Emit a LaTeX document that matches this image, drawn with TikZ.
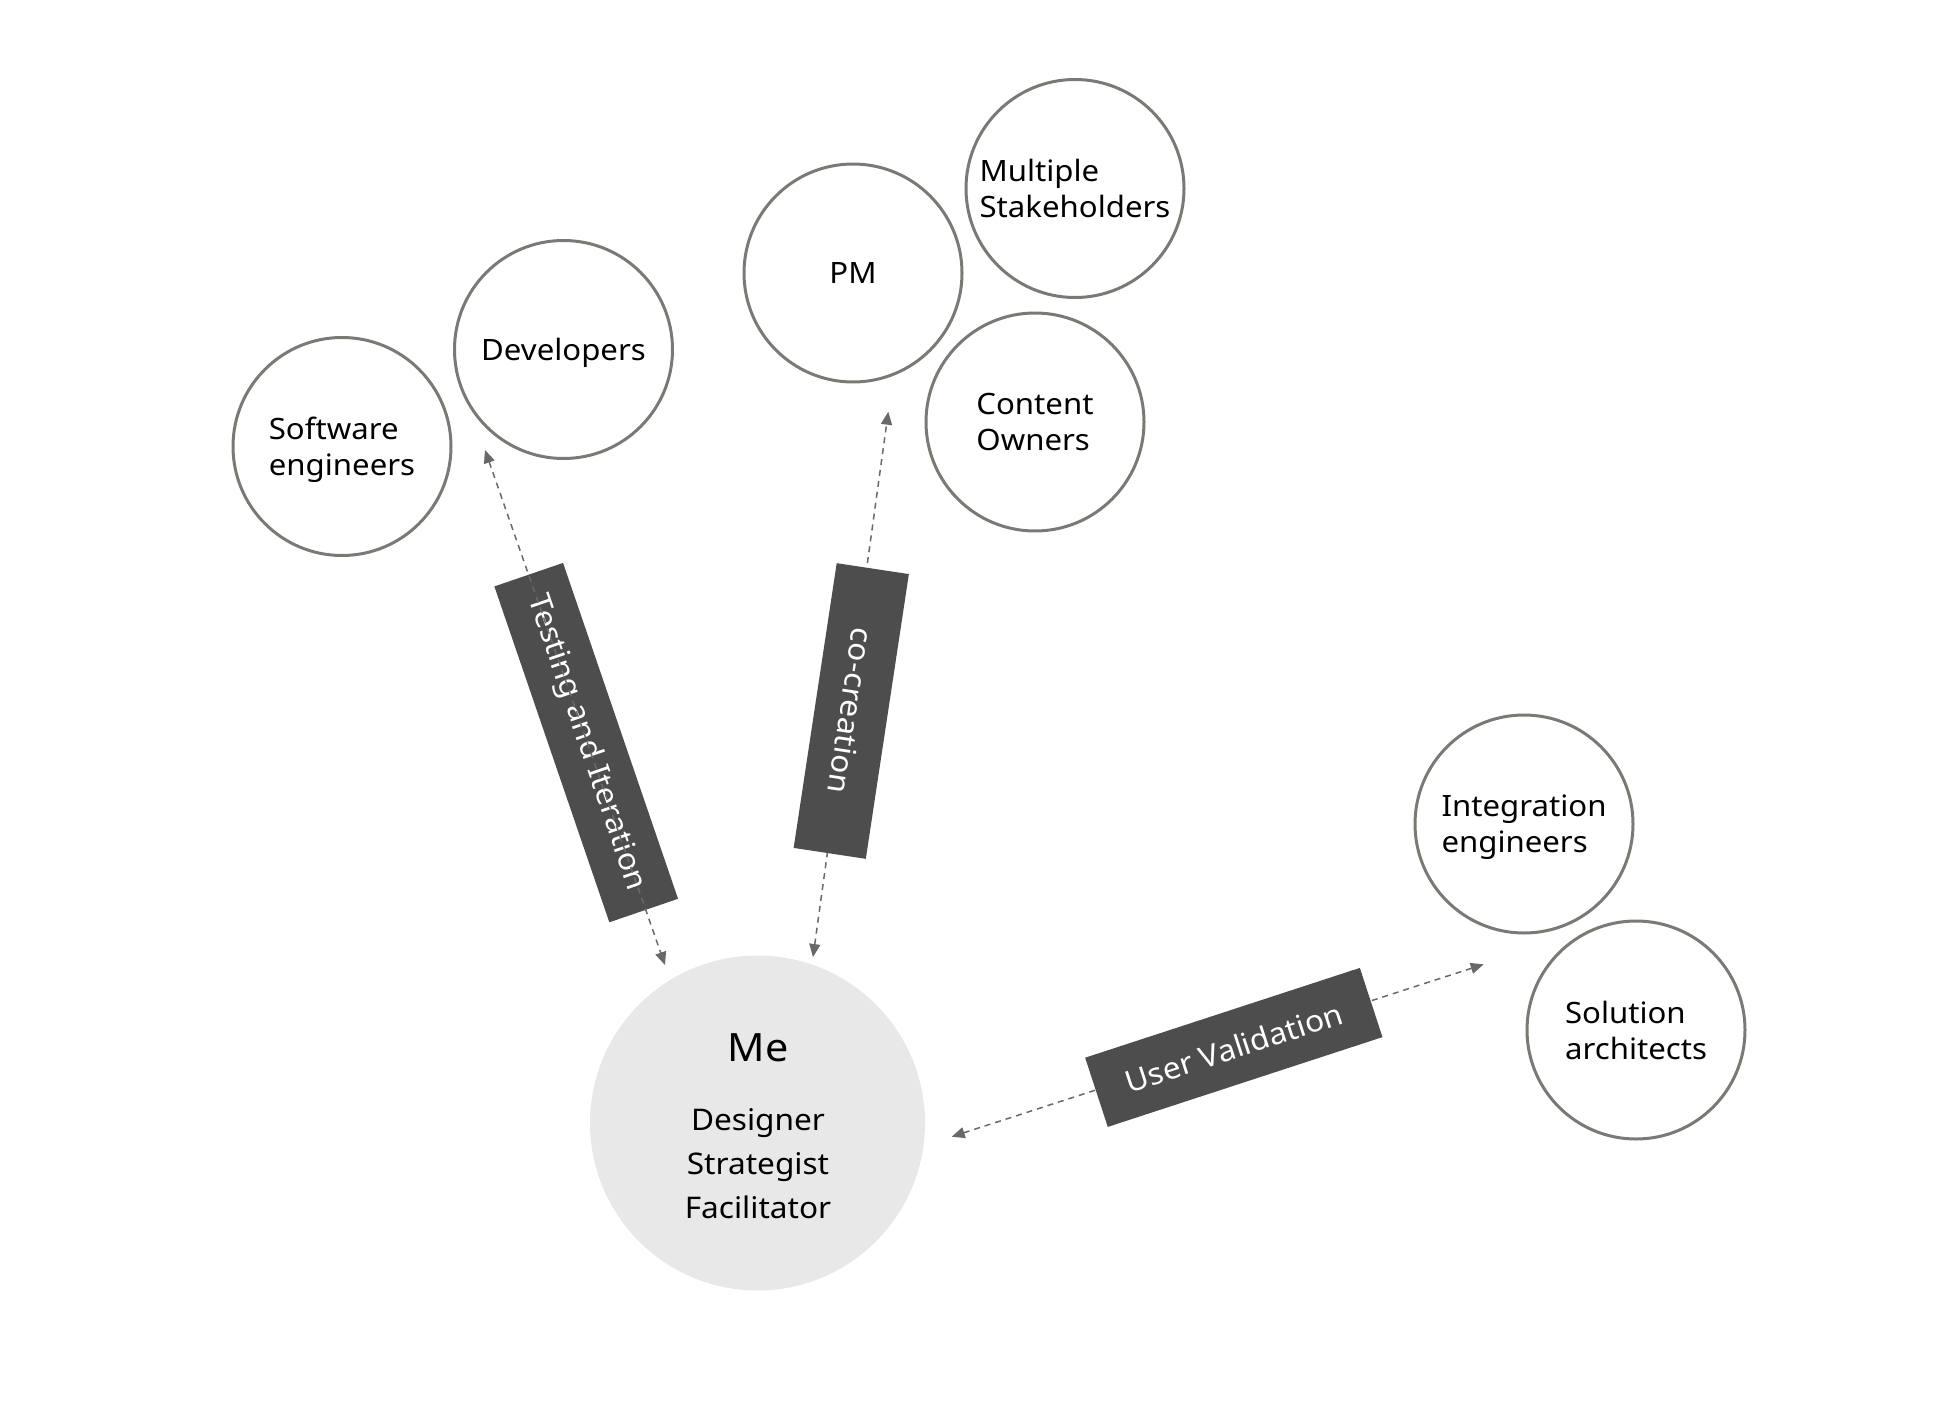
\documentclass[tikz,border=0pt]{standalone}
\usepackage{fontspec}
\setmainfont{Noto Sans}[FakeStretch=1.06]
\usetikzlibrary{arrows.meta}
\definecolor{ringcol}{RGB}{122,122,116}
\definecolor{boxcol}{RGB}{77,77,77}
\definecolor{mecol}{RGB}{232,232,232}
\definecolor{conncol}{RGB}{105,105,105}
\tikzset{
  stake/.style={circle, draw=ringcol, line width=3pt, minimum size=218pt, inner sep=0pt,
    align=left, font=\fontsize{29.4}{36}\selectfont, fill=white, text depth=0pt},
  lbl/.style={fill=boxcol, text=white, inner sep=0pt, font=\fontsize{30}{36}\selectfont},
  conn/.style={draw=conncol, line width=1.5pt, dash pattern=on 6pt off 5pt,
    arrows={Triangle[length=13pt,width=11pt]-Triangle[length=13pt,width=11pt]}},
  roletxt/.style={anchor=base, inner sep=0pt, font=\fontsize{29.8}{44}\selectfont}
}
\begin{document}
\begin{tikzpicture}[x=1pt,y=-1pt]
\useasboundingbox (0,0) rectangle (1946,1410);

% stakeholder circles
\node[stake] (soft) at (342,446.5) {Software\\engineers};
\node[stake] (dev) at (563.5,349.5) {Developers};
\node[stake] (pm) at (853,273) {PM};
\node[stake] (multi) at (1075,188.5) {Multiple\\Stakeholders};
\node[stake] (content) at (1035,422) {Content\\Owners};
\node[stake] (integ) at (1524,824) {Integration\\engineers};
\node[stake] (sol) at (1636,1030) {Solution\\architects};

% me
\node[circle, fill=mecol, minimum size=335pt, inner sep=0pt] (me) at (757.5,1123) {};
\node[anchor=base, inner sep=0pt, font=\fontsize{39}{44}\selectfont] (metitle) at (758,1061.7) {Me};
\node[roletxt] (designer) at (758,1130) {Designer};
\node[roletxt] (strategist) at (758,1174) {Strategist};
\node[roletxt] (facilitator) at (758,1218) {Facilitator};

% connector end points
\coordinate (tTop) at (485,450);
\coordinate (tBot) at (665,965);
\coordinate (cTop) at (888.3,411.7);
\coordinate (cBot) at (813,957);
\coordinate (uLeft) at (951.7,1136.7);
\coordinate (uRight) at (1483.7,964.3);

% connectors behind labels
\draw[conn] (cBot) -- (cTop);
\draw[conn] (uLeft) -- (uRight);

% labels
\node[lbl, rotate=-71.1, minimum width=355pt, minimum height=72.6pt] (testlbl) at (586.2,742.6) {Testing and Iteration};
\node[lbl, rotate=-98.6, minimum width=288pt, minimum height=73pt] (colbl) at (851.25,711) {co-creation};
\node[lbl, rotate=18.1, minimum width=289pt, minimum height=72.8pt] (uvlbl) at (1233.8,1047.4) {User Validation};

% connector drawn over its label
\draw[conn] (tTop) -- (tBot);
\end{tikzpicture}
\end{document}
